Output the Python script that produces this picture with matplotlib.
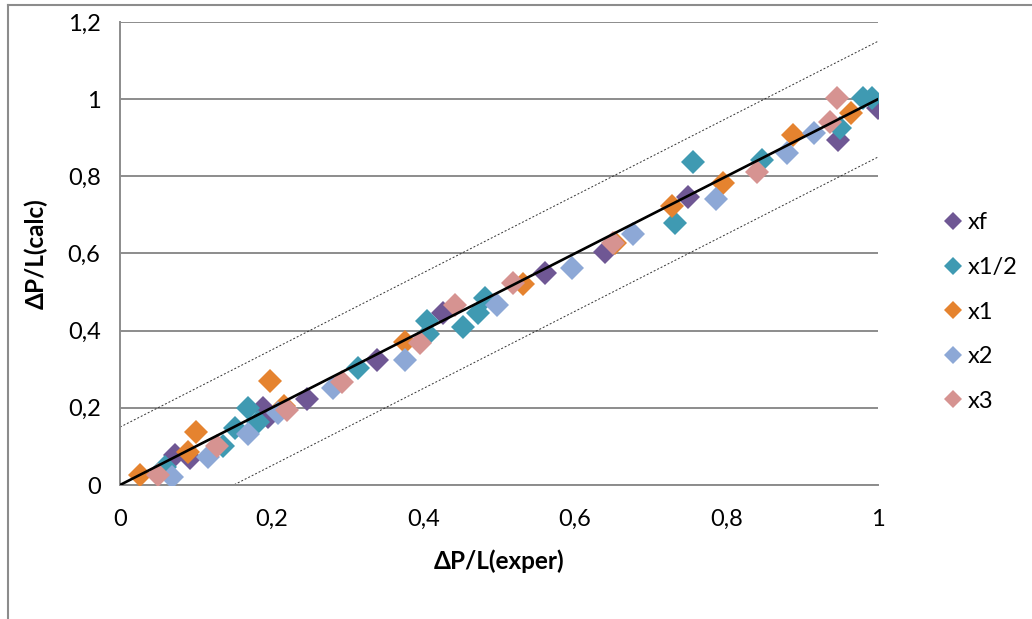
import matplotlib
matplotlib.use('Agg')
import matplotlib.pyplot as plt
from matplotlib.lines import Line2D
from matplotlib.ticker import FuncFormatter, MultipleLocator

plt.rcParams['font.family'] = ['Lato', 'DejaVu Sans']

# measured vs calculated pressure drop, one list pair per series
xf_exp = [0.073, 0.092, 0.188, 0.195, 0.247, 0.339, 0.426, 0.561, 0.640, 0.749, 0.947, 1.000]
xf_calc = [0.077, 0.070, 0.200, 0.176, 0.222, 0.324, 0.445, 0.549, 0.605, 0.746, 0.894, 0.977]

xh_exp = [0.059, 0.136, 0.152, 0.169, 0.182, 0.314, 0.406, 0.405, 0.453, 0.472, 0.481,
          0.732, 0.756, 0.847, 0.950, 0.980, 0.992]
xh_calc = [0.047, 0.102, 0.148, 0.200, 0.163, 0.303, 0.392, 0.424, 0.410, 0.445, 0.485,
           0.679, 0.837, 0.842, 0.926, 1.003, 1.004]

x1_exp = [0.026, 0.090, 0.100, 0.198, 0.216, 0.376, 0.532, 0.653, 0.728, 0.796, 0.888, 0.965]
x1_calc = [0.026, 0.086, 0.137, 0.270, 0.205, 0.370, 0.520, 0.628, 0.723, 0.782, 0.907, 0.964]

x2_exp = [0.068, 0.116, 0.169, 0.208, 0.281, 0.376, 0.497, 0.596, 0.677, 0.786, 0.880, 0.915]
x2_calc = [0.022, 0.073, 0.132, 0.186, 0.251, 0.324, 0.466, 0.562, 0.650, 0.741, 0.860, 0.912]

x3_exp = [0.050, 0.128, 0.220, 0.293, 0.396, 0.442, 0.518, 0.650, 0.840, 0.937, 0.946]
x3_calc = [0.026, 0.100, 0.194, 0.266, 0.368, 0.466, 0.523, 0.627, 0.811, 0.940, 1.003]

labels = ['xf', 'x1/2', 'x1', 'x2', 'x3']
colors = ['#6F5794', '#3F9AB2', '#E5832F', '#8DA8D6', '#D69391']

# parity line and +/-0.15 band
line_x = [0, 1]
band = 0.15

fig = plt.figure(figsize=(10.32, 6.19), dpi=100)
ax = fig.add_axes([120 / 1032, 1 - 485 / 619, 758 / 1032, 463 / 619])

series = [(xf_exp, xf_calc), (xh_exp, xh_calc), (x1_exp, x1_calc),
          (x2_exp, x2_calc), (x3_exp, x3_calc)]
for (xs, ys), lab, col in zip(series, labels, colors):
    ax.plot(xs, ys, 'D', color=col, markersize=12.5, markeredgewidth=0,
            label=lab, zorder=3)

ax.plot(line_x, line_x, color='black', linewidth=1.9, zorder=4)
ax.plot(line_x, [v + band for v in line_x], color='#333333', linewidth=0.7,
        linestyle=(0, (2, 2)), zorder=2)
ax.plot(line_x, [v - band for v in line_x], color='#333333', linewidth=0.7,
        linestyle=(0, (2, 2)), zorder=2)

ax.set_xlim(0, 1)
ax.set_ylim(0, 1.2)
ax.xaxis.set_major_locator(MultipleLocator(0.2))
ax.yaxis.set_major_locator(MultipleLocator(0.2))
comma = FuncFormatter(lambda v, p: ('%g' % round(v, 2)).replace('.', ','))
ax.xaxis.set_major_formatter(comma)
ax.yaxis.set_major_formatter(comma)
ax.tick_params(length=0, labelsize=17, pad=14)
ax.tick_params(axis='x', pad=17)

ax.grid(axis='y', color='#8C8C8C', linewidth=1.4, zorder=1)
for s in ['top', 'right']:
    ax.spines[s].set_visible(False)
for s in ['left', 'bottom']:
    ax.spines[s].set_color('#8C8C8C')
    ax.spines[s].set_linewidth(1.4)
ax.set_axisbelow(True)

ax.set_xlabel('ΔP/L(exper)', fontsize=17.5, fontweight='bold', labelpad=14)
ax.set_ylabel('ΔP/L(calc)', fontsize=17.5, fontweight='bold', labelpad=14)

ax.legend(loc='center left', bbox_to_anchor=(937 / 1032, 1 - 312 / 619),
          bbox_transform=fig.transFigure, frameon=False, fontsize=17,
          handlelength=0.55, handletextpad=0.35, labelspacing=1.0,
          markerscale=0.72, borderaxespad=0)

# chart frame
fig.add_artist(Line2D([8 / 1032, 1], [1 - 5 / 619, 1 - 5 / 619],
                      color='#8C8C8C', linewidth=1.5))
fig.add_artist(Line2D([8 / 1032, 8 / 1032], [0, 1 - 5 / 619],
                      color='#8C8C8C', linewidth=1.5))

fig.savefig('out.png', dpi=100)
